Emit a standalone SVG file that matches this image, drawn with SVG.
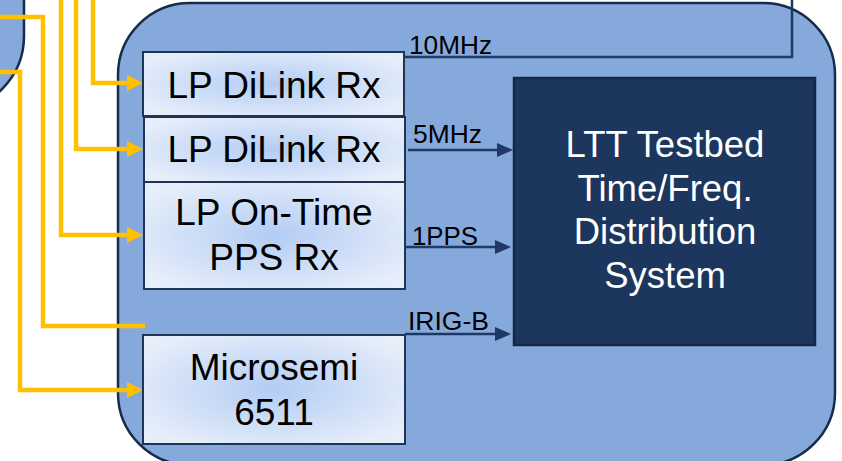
<svg xmlns="http://www.w3.org/2000/svg" width="842" height="461" viewBox="0 0 842 461">
  <defs>
    <radialGradient id="nodeGrad" cx="50%" cy="50%" r="60%">
      <stop offset="0" stop-color="#B3CCF4"/>
      <stop offset="1" stop-color="#E6EEFA"/>
    </radialGradient>
    <marker id="arrOrange" viewBox="0 0 16 16" refX="8" refY="8" markerWidth="16" markerHeight="16" markerUnits="userSpaceOnUse" orient="auto">
      <path d="M0,0 L16,8 L0,16 Z" fill="#FFC000"/>
    </marker>
    <marker id="arrDark" viewBox="0 0 16 14" refX="10" refY="7" markerWidth="16" markerHeight="14" markerUnits="userSpaceOnUse" orient="auto">
      <path d="M0,0 L16,7 L0,14 Z" fill="#1F3864"/>
    </marker>
  </defs>
  <style>
    .container { fill: #86A9DC; stroke: #172B4B; stroke-width: 2.5; }
    .node { fill: url(#nodeGrad); stroke: #1F3557; stroke-width: 2; }
    .ltt { fill: #1C365E; stroke: #132846; stroke-width: 2.5; }
    .ntext { font-family: "Liberation Sans", Arial, sans-serif; font-size: 37px; fill: #000; text-anchor: middle; }
    .wtext { font-family: "Liberation Sans", Arial, sans-serif; font-size: 36.5px; fill: #FFFFFF; text-anchor: middle; }
    .lbl { font-family: "Liberation Sans", Arial, sans-serif; font-size: 25px; fill: #000; }
    .orange { fill: none; stroke: #FFC000; stroke-width: 4.5; }
    .dark { fill: none; stroke: #1F3864; stroke-width: 2.5; }
  </style>

  <g id="left-shape">
    <path class="container" d="M -5 -5 H 24 V 36 A 75 75 0 0 1 -51 111 Z"/>
  </g>

  <g id="container">
    <rect class="container" x="118" y="3" width="717" height="462" rx="72" ry="72"/>
  </g>

  <g id="connectors">
    <path class="orange" d="M 93 0 V 83 H 135" marker-end="url(#arrOrange)"/>
    <path class="orange" d="M 76 0 V 149 H 135" marker-end="url(#arrOrange)"/>
    <path class="orange" d="M 61 0 V 235 H 135" marker-end="url(#arrOrange)"/>
    <path class="orange" d="M 0 17 H 43 V 326 H 145"/>
    <path class="orange" d="M 0 72 H 20 V 390 H 135" marker-end="url(#arrOrange)"/>
    <path class="dark" d="M 402 57 H 792 V 0"/>
    <path class="dark" d="M 408 150 H 507" marker-end="url(#arrDark)"/>
    <path class="dark" d="M 405 247 H 505" marker-end="url(#arrDark)"/>
    <path class="dark" d="M 405 334 H 505" marker-end="url(#arrDark)"/>
    <text class="lbl" x="409" y="54" textLength="83" lengthAdjust="spacingAndGlyphs">10MHz</text>
    <text class="lbl" x="413" y="143" textLength="69" lengthAdjust="spacingAndGlyphs">5MHz</text>
    <text class="lbl" x="412" y="245" textLength="66" lengthAdjust="spacingAndGlyphs">1PPS</text>
    <text class="lbl" x="408" y="330" textLength="81" lengthAdjust="spacingAndGlyphs">IRIG-B</text>
  </g>

  <g id="dilink1">
    <rect class="node" x="143" y="52" width="261" height="64"/>
    <text class="ntext" x="274" y="98">LP DiLink Rx</text>
  </g>
  <g id="dilink2">
    <rect class="node" x="144" y="117" width="261" height="65"/>
    <text class="ntext" x="274" y="162">LP DiLink Rx</text>
  </g>
  <g id="ontime">
    <rect class="node" x="144" y="182" width="261" height="107"/>
    <text class="ntext" x="274" y="225">LP On-Time</text>
    <text class="ntext" x="274" y="270">PPS Rx</text>
  </g>
  <g id="microsemi">
    <rect class="node" x="143" y="335" width="262" height="109"/>
    <text class="ntext" x="274" y="380">Microsemi</text>
    <text class="ntext" x="274" y="425">6511</text>
  </g>
  <g id="ltt">
    <rect class="ltt" x="514" y="78" width="301" height="267"/>
    <text class="wtext" x="665" y="157">LTT Testbed</text>
    <text class="wtext" x="665" y="200.5">Time/Freq.</text>
    <text class="wtext" x="665" y="244">Distribution</text>
    <text class="wtext" x="665" y="287.5">System</text>
  </g>
</svg>
